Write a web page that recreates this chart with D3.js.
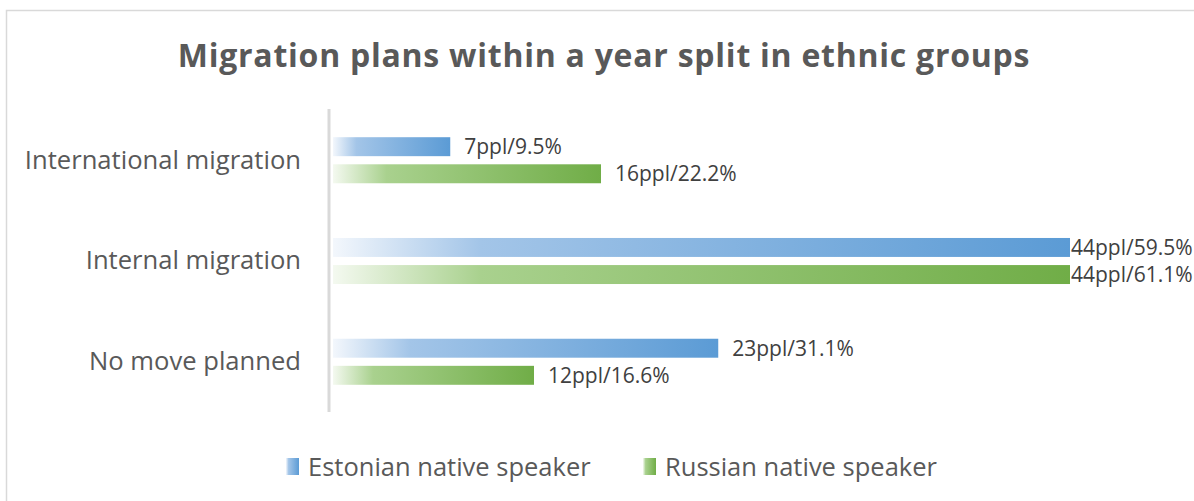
<!DOCTYPE html>
<html>
<head>
<meta charset="utf-8">
<script src="https://cdn.jsdelivr.net/npm/d3@7"></script>
<style>
  html, body { margin: 0; padding: 0; background: #fff; }
  svg { display: block; }
  text { font-family: "Open Sans", "Noto Sans", sans-serif; }
</style>
</head>
<body>
<svg id="chart" width="1194" height="501"></svg>
<script>
// Categories (top to bottom) and the two speaker groups
const categories = ["International migration", "Internal migration", "No move planned"];
const seriesNames = ["Estonian native speaker", "Russian native speaker"];

// Number of people per category, and the share of the group
const estonianPeople = [7, 44, 23];
const estonianShare = [9.5, 59.5, 31.1];
const russianPeople = [16, 44, 12];
const russianShare = [22.2, 61.1, 16.6];

const title = "Migration plans within a year split in ethnic groups";

const W = 1194, H = 501;
const svg = d3.select("#chart");

const palette = {
  "Estonian native speaker": { light: "#f3f7fc", mid: "#a3c5e8", dark: "#5b9bd5" },
  "Russian native speaker": { light: "#f4f9f0", mid: "#a9d18e", dark: "#70ad47" }
};

// Horizontal gradients, white at the base of each bar to full colour at its end
const defs = svg.append("defs");
seriesNames.forEach((name, i) => {
  const c = palette[name];
  const g = defs.append("linearGradient")
    .attr("id", "grad" + i)
    .attr("x1", "0%").attr("x2", "100%").attr("y1", "0%").attr("y2", "0%");
  g.append("stop").attr("offset", "0%").attr("stop-color", c.light);
  g.append("stop").attr("offset", "20%").attr("stop-color", c.mid);
  g.append("stop").attr("offset", "100%").attr("stop-color", c.dark);
});

// Chart frame
svg.append("rect")
  .attr("x", 6.5).attr("y", 10.5)
  .attr("width", 1300).attr("height", 700)
  .attr("fill", "#fff").attr("stroke", "#d9d9d9").attr("stroke-width", 1.5);

// Title
svg.append("text")
  .attr("x", 604).attr("y", 67)
  .attr("text-anchor", "middle")
  .attr("font-size", 32).attr("font-weight", "bold")
  .attr("fill", "#595959")
  .attr("letter-spacing", 0.75)
  .text(title);

// Scales
const x = d3.scaleLinear().domain([0, 44]).range([333, 1070]);
const y0 = d3.scaleBand().domain(categories).range([110, 412]).paddingInner(0.543).paddingOuter(0.27);
const y1 = d3.scaleBand().domain(seriesNames).range([0, y0.bandwidth()]).paddingInner(0.3);

const rows = categories.map((cat, i) => ({
  cat,
  values: [
    { name: seriesNames[0], people: estonianPeople[i], share: estonianShare[i], idx: 0 },
    { name: seriesNames[1], people: russianPeople[i], share: russianShare[i], idx: 1 }
  ]
}));

// Category axis (labels only, with a light vertical line)
const yAxisScale = d3.scaleBand().domain(categories).range([110, 412]);
const axis = svg.append("g")
  .attr("transform", "translate(329,0)")
  .call(d3.axisLeft(yAxisScale).tickSize(0).tickPadding(28));
axis.select(".domain").attr("stroke", "#d9d9d9").attr("stroke-width", 3)
  .attr("d", "M0,109V412");
axis.selectAll(".tick text")
  .attr("font-size", 25.6)
  .attr("fill", "#595959")
  .style("font-family", "\"Open Sans\", sans-serif");

// Bars
const groups = svg.append("g").selectAll("g")
  .data(rows).join("g")
  .attr("transform", d => `translate(0,${y0(d.cat)})`);

groups.selectAll("rect")
  .data(d => d.values).join("rect")
  .attr("x", x(0))
  .attr("y", d => y1(d.name))
  .attr("width", d => x(d.people) - x(0))
  .attr("height", y1.bandwidth())
  .attr("fill", d => `url(#grad${d.idx})`);

// Value labels; kept inside the frame when the bar reaches the right edge
const rightLimit = 1190;
groups.selectAll("text.val")
  .data(d => d.values).join("text")
  .attr("class", "val")
  .attr("y", d => y1(d.name) + y1.bandwidth() / 2)
  .attr("dy", "0.35em")
  .attr("font-size", 21)
  .attr("fill", "#404040")
  .text(d => `${d.people}ppl/${d.share}%`)
  .each(function (d) {
    const w = this.getComputedTextLength();
    const pos = Math.min(x(d.people) + 14, rightLimit - w);
    d3.select(this).attr("x", Math.max(pos, x(d.people) + 1));
  });

// Legend
const legendX = [286, 643];
const legend = svg.append("g").selectAll("g")
  .data(seriesNames).join("g")
  .attr("transform", (d, i) => `translate(${legendX[i]},458)`);
legend.append("rect")
  .attr("width", 13).attr("height", 17)
  .attr("fill", (d, i) => `url(#grad${i})`);
legend.append("text")
  .attr("x", 22).attr("y", 9)
  .attr("dy", "0.35em")
  .attr("font-size", 25.5)
  .attr("fill", "#595959")
  .text(d => d);
</script>
</body>
</html>
